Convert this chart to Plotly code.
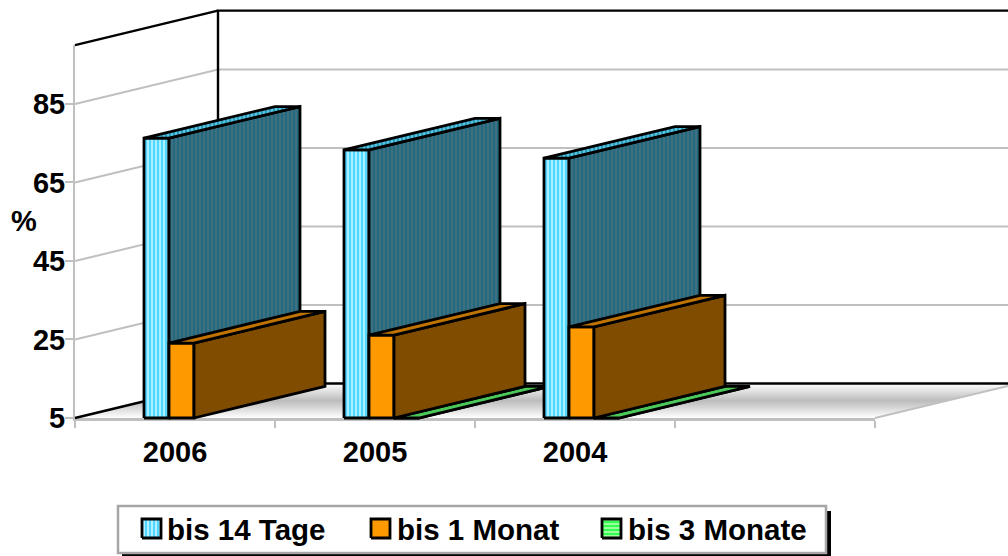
import plotly.graph_objects as go

# ---- data ----
categories = ["2006", "2005", "2004"]
series_names = ["bis 14 Tage", "bis 1 Monat", "bis 3 Monate"]
bis_14_tage = [76.3, 73.3, 71.2]
bis_1_monat = [24.1, 26.1, 28.2]
bis_3_monate = [None, 5.0, 5.0]
y_ticks = [5, 25, 45, 65, 85]
y_min, y_max = 5, 100
n_slots = 4

# ---- styling / projection constants ----
FONT = dict(family="Liberation Sans, Arial, sans-serif", size=29, color="#000000", weight="bold")
LEG_FONT = dict(FONT, size=29.5)
GREY = "#c0c0c0"
DX, DY = 0.715, 8.79      # oblique depth vector in axis units
BAR_W, BAR_D, BAR_OFF = 0.125, 0.916, 0.345
PX_X, PX_Y = 200.0, 3.925  # pixels per axis unit

CW, CH = 1008, 556
L, T, W, H = 75, 45, 800, 373


def pro(x, v, d=0.0):
    return x + d * DX, v + d * DY


def from_px(px, py):
    return (px - L) / PX_X, y_min + (T + H - py) / PX_Y


def poly(points, **kw):
    xs = [p[0] for p in points] + [points[0][0]]
    ys = [p[1] for p in points] + [points[0][1]]
    return go.Scatter(x=xs, y=ys, xaxis="x2", yaxis="y2", mode="lines", fill="toself",
                      showlegend=False, hoverinfo="skip", **kw)


def path(points, color, width):
    return go.Scatter(x=[p[0] for p in points], y=[p[1] for p in points], xaxis="x2", yaxis="y2",
                      mode="lines", line=dict(color=color, width=width), showlegend=False,
                      hoverinfo="skip")


def pat(shape, fg, bg, size=4, sol=0.5):
    return dict(shape=shape, fgcolor=fg, bgcolor=bg, size=size, solidity=sol, fillmode="replace")


OUT = dict(color="#000000", width=2.8)
FACE = {
    0: dict(
        front=dict(fillpattern=pat("|", "#4fd8ff", "#a8f0ff"), fillcolor="#80e4ff"),
        top=dict(fillpattern=pat("|", "#2a9cc0", "#5cc4dc"), fillcolor="#40b0d0"),
        side=dict(fillpattern=pat("|", "#226a80", "#40707f"), fillcolor="#316d80"),
    ),
    1: dict(
        front=dict(fillcolor="#ff9900"),
        top=dict(fillcolor="#bf7300"),
        side=dict(fillcolor="#7f4c00"),
    ),
    2: dict(
        front=dict(fillcolor="#33cc33"),
        top=dict(fillcolor="#4cc85a"),
        side=dict(fillcolor="#1f7a1f"),
    ),
}

fig = go.Figure()

# anchors the real axes (which carry the ticks and their labels)
fig.add_trace(go.Scatter(x=[0], y=[y_min], mode="none", showlegend=False, hoverinfo="skip"))

# floor
fig.add_trace(poly([pro(0, y_min, 0), pro(n_slots, y_min, 0), pro(n_slots, y_min, 1), pro(0, y_min, 1)],
                   line=dict(width=0, color="rgba(0,0,0,0)"),
                   fillgradient=dict(type="vertical",
                                     colorscale=[[0, "#ffffff"], [0.5, "#bcbcbc"], [1, "#ffffff"]])))

# grid on the side wall and the back wall
for v in y_ticks[1:]:
    fig.add_trace(path([pro(0, v, 0), pro(0, v, 1), pro(n_slots + 1, v, 1)], GREY, 2))
fig.add_trace(path([pro(n_slots, y_min, 0), pro(n_slots, y_min, 1)], GREY, 2))

# wall outlines
fig.add_trace(path([pro(0, y_min, 0), pro(0, y_min, 1), pro(0, y_max, 1), pro(n_slots + 1, y_max, 1)], "#000000", 2.4))
fig.add_trace(path([pro(0, y_max, 0), pro(0, y_max, 1)], "#000000", 2.4))
fig.add_trace(path([pro(0, y_min, 1), pro(n_slots + 1, y_min, 1)], "#000000", 2.4))

# bars
all_series = [bis_14_tage, bis_1_monat, bis_3_monate]
for i, _ in enumerate(categories):
    for k in (2, 0, 1):
        v = all_series[k][i]
        if v is None:
            continue
        x0 = i + BAR_OFF + k * BAR_W
        x1 = x0 + BAR_W
        f = FACE[k]
        name = series_names[k]
        fig.add_trace(poly([pro(x0, y_min), pro(x1, y_min), pro(x1, v), pro(x0, v)],
                           line=OUT, name=name, **f["front"]))
        fig.add_trace(poly([pro(x1, y_min), pro(x1, y_min, BAR_D), pro(x1, v, BAR_D), pro(x1, v)],
                           line=OUT, name=name, **f["side"]))
        fig.add_trace(poly([pro(x0, v), pro(x1, v), pro(x1, v, BAR_D), pro(x0, v, BAR_D)],
                           line=OUT, name=name, **f["top"]))

# legend: swatches with the same face fills as the bars
swatches = [
    (142, 0, dict(fillpattern=pat("|", "#4fd8ff", "#b4f0ff"), fillcolor="#80e4ff")),
    (371, 1, dict(fillcolor="#ff9900")),
    (602, 2, dict(fillpattern=pat("-", "#33ff55", "#99ff99"), fillcolor="#66ff77")),
]
legend_text_x = [165, 395, 626]
shapes = [
    dict(type="rect", xref="paper", yref="paper",
         x0=122 / CW, x1=831 / CW, y0=0, y1=(CH - 511) / CH,
         fillcolor="#000000", line=dict(width=0), layer="below"),
    dict(type="rect", xref="paper", yref="paper",
         x0=118 / CW, x1=826 / CW, y0=(CH - 553) / CH, y1=(CH - 506) / CH,
         fillcolor="#ffffff", line=dict(color="#a6a6a6", width=2.5), layer="below"),
]
annotations = []
for (sx, k, fill), tx in zip(swatches, legend_text_x):
    a, b = from_px(sx, 538), from_px(sx + 19, 519)
    fig.add_trace(poly([(a[0], a[1]), (b[0], a[1]), (b[0], b[1]), (a[0], b[1])], line=OUT, **fill))
    annotations.append(dict(xref="paper", yref="paper", x=tx / CW, y=(CH - 529) / CH,
                            text=series_names[k], showarrow=False, xanchor="left", yanchor="middle",
                            font=LEG_FONT))
annotations.append(dict(xref="paper", yref="paper", x=24 / CW, y=(CH - 221) / CH,
                        text="%", showarrow=False, xanchor="center", yanchor="middle", font=FONT))

fig.update_layout(
    width=CW, height=CH,
    margin=dict(l=0, r=0, t=0, b=0, pad=0, autoexpand=False),
    paper_bgcolor="#ffffff", plot_bgcolor="rgba(0,0,0,0)",
    showlegend=False, hovermode=False,
    shapes=shapes, annotations=annotations,
    xaxis=dict(domain=[L / CW, (L + W) / CW], range=[0, n_slots], tickmode="array", automargin=False,
               tickvals=[i + 0.5 for i in range(len(categories))], ticktext=categories,
               ticks="outside", ticklen=6, tickcolor="rgba(0,0,0,0)", tickwidth=1,
               minor=dict(tickmode="array", tickvals=list(range(n_slots + 1)), ticks="outside",
                          ticklen=7, tickcolor=GREY, tickwidth=2),
               showline=True, linecolor=GREY, linewidth=3, showgrid=False, zeroline=False,
               tickfont=FONT, fixedrange=True, anchor="y"),
    yaxis=dict(domain=[(CH - T - H) / CH, (CH - T) / CH], range=[y_min, y_max], tickmode="array",
               tickvals=y_ticks, ticks="outside", ticklen=8, tickcolor=GREY, tickwidth=2,
               ticklabelstandoff=-6, automargin=False,
               showline=True, linecolor=GREY, linewidth=2, showgrid=False, zeroline=False,
               tickfont=FONT, fixedrange=True, anchor="x"),
    # overlay axes in the same units, covering the whole page, for the oblique depth of the scene
    xaxis2=dict(domain=[0, 1], range=[-L / PX_X, (CW - L) / PX_X], visible=False,
                fixedrange=True, anchor="y2", automargin=False),
    yaxis2=dict(domain=[0, 1], range=[y_min - (CH - T - H) / PX_Y, y_min + (T + H) / PX_Y],
                visible=False, fixedrange=True, anchor="x2", automargin=False),
)

fig.write_html("out.html", config=dict(displayModeBar=False),
               post_script="document.body.style.margin='0';")
